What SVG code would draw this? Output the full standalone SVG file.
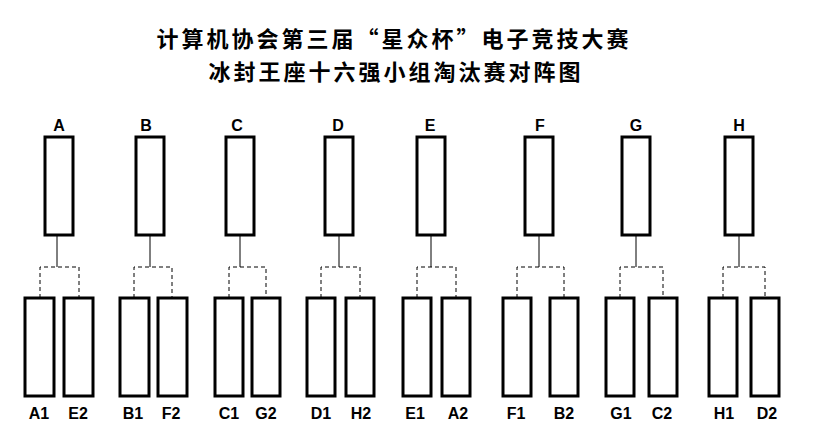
<svg xmlns="http://www.w3.org/2000/svg" width="815" height="443" viewBox="0 0 815 443">
<style>
.b{fill:#fff;stroke:#000;stroke-width:3}
.t{font-family:"Liberation Sans",Arial,sans-serif;font-weight:bold;font-size:16px;text-anchor:middle}
.h{font-family:"Noto Sans CJK SC",sans-serif;font-weight:bold;font-size:22px;letter-spacing:3px;text-anchor:middle}
.s{stroke:#000;stroke-width:1;fill:none}
.d{stroke:#000;stroke-width:1;fill:none;stroke-dasharray:4,3}
</style>
<rect width="815" height="443" fill="#fff"/>
<g id="title">
<text class="h" x="394" y="47">计算机协会第三届“星众杯”电子竞技大赛</text>
<text class="h" x="396" y="80">冰封王座十六强小组淘汰赛对阵图</text>
</g>
<g id="connectors">
<path class="s" d="M57 235V267M150 235V267M240 235V267M339 235V267M431 235V267M539 235V267M636 235V267M739 235V267"/>
<path class="d" d="M40 298V267H79V298M134 298V267H172V298M229 298V267H266V298M321 298V267H360V298M417 298V267H456V298M517 298V267H564V298M620 298V267H663V298M723 298V267H765V298"/>
</g>
<g id="A"><rect class="b" x="45" y="137" width="28" height="98"/><text class="t" x="59" y="131">A</text></g>
<g id="B"><rect class="b" x="136" y="137" width="28" height="98"/><text class="t" x="146" y="131">B</text></g>
<g id="C"><rect class="b" x="226" y="137" width="28" height="98"/><text class="t" x="237" y="131">C</text></g>
<g id="D"><rect class="b" x="325" y="137" width="28" height="98"/><text class="t" x="338" y="131">D</text></g>
<g id="E"><rect class="b" x="417" y="137" width="28" height="98"/><text class="t" x="430" y="131">E</text></g>
<g id="F"><rect class="b" x="525" y="137" width="28" height="98"/><text class="t" x="540" y="131">F</text></g>
<g id="G"><rect class="b" x="622" y="137" width="28" height="98"/><text class="t" x="636" y="131">G</text></g>
<g id="H"><rect class="b" x="725" y="137" width="28" height="98"/><text class="t" x="739" y="131">H</text></g>
<g id="A1"><rect class="b" x="25" y="298" width="29" height="98"/><text class="t" x="39" y="419">A1</text></g>
<g id="E2"><rect class="b" x="64" y="298" width="29" height="98"/><text class="t" x="78" y="419">E2</text></g>
<g id="B1"><rect class="b" x="120" y="298" width="29" height="98"/><text class="t" x="133" y="419">B1</text></g>
<g id="F2"><rect class="b" x="158" y="298" width="29" height="98"/><text class="t" x="171" y="419">F2</text></g>
<g id="C1"><rect class="b" x="215" y="298" width="28" height="98"/><text class="t" x="229" y="419">C1</text></g>
<g id="G2"><rect class="b" x="252" y="298" width="28" height="98"/><text class="t" x="266" y="419">G2</text></g>
<g id="D1"><rect class="b" x="307" y="298" width="28" height="98"/><text class="t" x="321" y="419">D1</text></g>
<g id="H2"><rect class="b" x="346" y="298" width="28" height="98"/><text class="t" x="361" y="419">H2</text></g>
<g id="E1"><rect class="b" x="403" y="298" width="28" height="98"/><text class="t" x="415" y="419">E1</text></g>
<g id="A2"><rect class="b" x="442" y="298" width="28" height="98"/><text class="t" x="458" y="419">A2</text></g>
<g id="F1"><rect class="b" x="503" y="298" width="28" height="98"/><text class="t" x="516" y="419">F1</text></g>
<g id="B2"><rect class="b" x="550" y="298" width="28" height="98"/><text class="t" x="564" y="419">B2</text></g>
<g id="G1"><rect class="b" x="606" y="298" width="28" height="98"/><text class="t" x="621" y="419">G1</text></g>
<g id="C2"><rect class="b" x="649" y="298" width="28" height="98"/><text class="t" x="662" y="419">C2</text></g>
<g id="H1"><rect class="b" x="709" y="298" width="28" height="98"/><text class="t" x="724" y="419">H1</text></g>
<g id="D2"><rect class="b" x="751" y="298" width="28" height="98"/><text class="t" x="767" y="419">D2</text></g>
</svg>
